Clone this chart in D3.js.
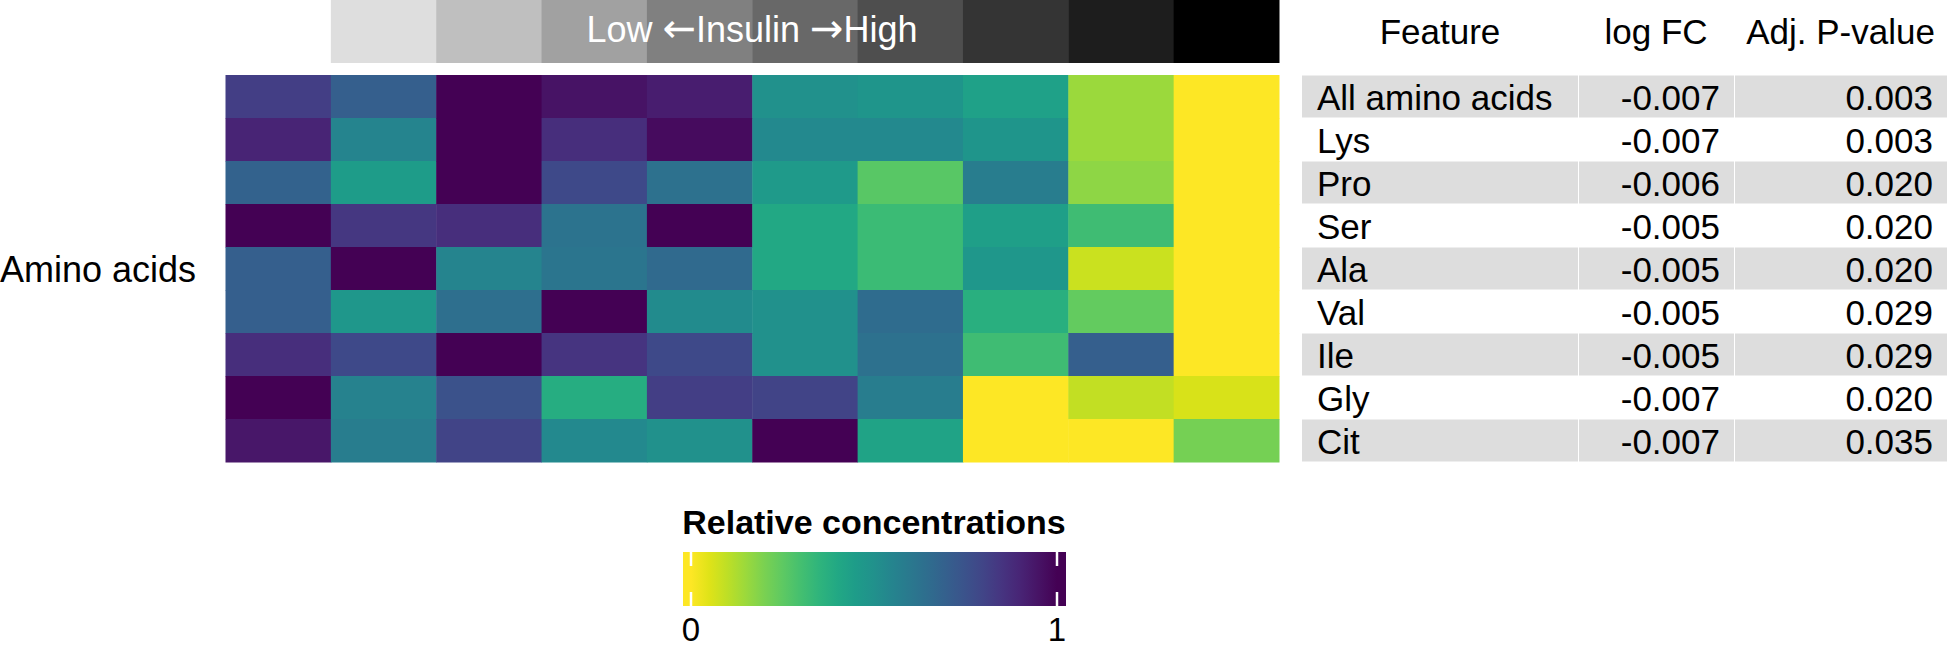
<!DOCTYPE html>
<html><head><meta charset="utf-8">
<script src="https://cdn.jsdelivr.net/npm/d3@7"></script>
<style>
body{margin:0;background:#fff}
svg{display:block}
text{font-family:"Liberation Sans",Arial,Helvetica,sans-serif}
</style>
</head><body><svg id="c" width="1947" height="649"></svg>
<script>
// ---------------- data ----------------
const features = ["All amino acids","Lys","Pro","Ser","Ala","Val","Ile","Gly","Cit"];
const samples = ["S1","S2","S3","S4","S5","S6","S7","S8","S9","S10"];
// insulin group for each sample column (first column has no insulin annotation)
const insulinGroup = [null,1,2,3,4,5,6,7,8,9];
const insulinLabelParts = ["Low ","\u2190","Insulin ","\u2192","High"];
// relative concentrations (0 = yellow, 1 = dark purple), rows = features, cols = samples
const relConc = [
  [0.82,0.70,1.00,0.95,0.92,0.50,0.48,0.43,0.15,0.00],
  [0.90,0.55,1.00,0.87,0.97,0.53,0.53,0.48,0.15,0.00],
  [0.69,0.45,1.00,0.78,0.63,0.46,0.26,0.58,0.17,0.00],
  [1.00,0.84,0.87,0.62,1.00,0.40,0.32,0.44,0.31,0.00],
  [0.70,1.00,0.55,0.61,0.66,0.40,0.32,0.47,0.08,0.00],
  [0.70,0.47,0.64,1.00,0.52,0.50,0.65,0.37,0.24,0.00],
  [0.87,0.78,1.00,0.85,0.78,0.50,0.63,0.31,0.70,0.00],
  [1.00,0.56,0.75,0.38,0.82,0.80,0.58,0.00,0.09,0.06],
  [0.94,0.58,0.80,0.53,0.50,1.00,0.42,0.00,0.00,0.21]
];
const logFC = ["-0.007","-0.007","-0.006","-0.005","-0.005","-0.005","-0.005","-0.007","-0.007"];
const adjP  = ["0.003","0.003","0.020","0.020","0.020","0.029","0.029","0.020","0.035"];
const tableHeaders = ["Feature","log FC","Adj. P-value"];
const rowLabel = "Amino acids";
const legendTitle = "Relative concentrations";
const legendTicks = [0,1];

// ---------------- drawing ----------------
const svg = d3.select("#c");

const x = d3.scaleBand().domain(samples).range([225.5,1279]).padding(0);
const y = d3.scaleBand().domain(features).range([75,462]).padding(0);
const color = d3.scaleSequential(d3.interpolateViridis).domain([1,0]);
const gray = d3.scaleLinear()
  .domain([1,2,3,4,5,6,7,8,9])
  .range(["#dedede","#bfbfbf","#a1a1a1","#808080","#686868","#4e4e4e","#343434","#1d1d1d","#000000"]);

// insulin annotation bar
const ins = svg.append("g");
ins.selectAll("rect").data(samples.map((s,i)=>({s,g:insulinGroup[i]})).filter(d=>d.g!=null))
  .join("rect")
  .attr("x",d=>x(d.s)).attr("y",0)
  .attr("width",x.bandwidth()+0.5).attr("height",63)
  .attr("fill",d=>gray(d.g));
const insText = ins.append("text")
  .attr("x",752).attr("y",41.5)
  .attr("text-anchor","middle")
  .attr("fill","#fff")
  .style("font-size","36px");
insText.selectAll("tspan").data(insulinLabelParts).join("tspan")
  .style("font-family",d=>(d==="\u2190"||d==="\u2192")?"'DejaVu Sans'":null)
  .style("font-size",d=>(d==="\u2190"||d==="\u2192")?"40px":null)
  .text(d=>d);

// heatmap cells
const cells = [];
relConc.forEach((row,ri)=>row.forEach((v,ci)=>cells.push({f:features[ri],s:samples[ci],v})));
svg.append("g").selectAll("rect").data(cells).join("rect")
  .attr("x",d=>x(d.s)).attr("y",d=>y(d.f))
  .attr("width",x.bandwidth()+0.5).attr("height",y.bandwidth()+0.5)
  .attr("fill",d=>color(d.v));

// row group label
svg.append("text")
  .attr("x",0).attr("y",(y.range()[0]+y.range()[1])/2+13)
  .style("font-size","36px")
  .text(rowLabel);

// table
const colEdges = [1302,1578,1734,1947];
const tbl = svg.append("g");
features.forEach((f,i)=>{
  if(i%2===0){
    for(let c=0;c<3;c++){
      tbl.append("rect")
        .attr("x",colEdges[c]+(c?1:0)).attr("y",y(f)+0.5)
        .attr("width",colEdges[c+1]-colEdges[c]-(c?1:0)).attr("height",y.bandwidth()-1)
        .attr("fill","#dddddd");
    }
  }
});
const fs = "35px";
tbl.selectAll("text.h").data(tableHeaders).join("text")
  .attr("class","h")
  .attr("x",(d,i)=>(colEdges[i]+colEdges[i+1])/2)
  .attr("y",44)
  .attr("text-anchor","middle")
  .style("font-size",fs)
  .text(d=>d);
tbl.selectAll("text.f").data(features).join("text")
  .attr("class","f")
  .attr("x",1317).attr("y",d=>y(d)+34.5)
  .style("font-size",fs).text(d=>d);
tbl.selectAll("text.l").data(logFC).join("text")
  .attr("class","l")
  .attr("x",1720).attr("y",(d,i)=>y(features[i])+34.5)
  .attr("text-anchor","end")
  .style("font-size",fs).text(d=>d);
tbl.selectAll("text.p").data(adjP).join("text")
  .attr("class","p")
  .attr("x",1933).attr("y",(d,i)=>y(features[i])+34.5)
  .attr("text-anchor","end")
  .style("font-size",fs).text(d=>d);

// legend
const lx = d3.scaleLinear().domain([0,1]).range([691,1057]);
const barX0 = 683, barX1 = 1066, barY0 = 552, barY1 = 606;
const defs = svg.append("defs");
const grad = defs.append("linearGradient").attr("id","vg")
  .attr("gradientUnits","userSpaceOnUse")
  .attr("x1",lx(0)).attr("x2",lx(1)).attr("y1",0).attr("y2",0);
d3.range(0,1.0001,0.05).forEach(t=>{
  grad.append("stop").attr("offset",t).attr("stop-color",color(t));
});
svg.append("text")
  .attr("x",874).attr("y",534)
  .attr("text-anchor","middle")
  .style("font-size","34px").style("font-weight","bold")
  .text(legendTitle);
svg.append("rect")
  .attr("x",barX0).attr("y",barY0)
  .attr("width",barX1-barX0).attr("height",barY1-barY0)
  .attr("fill","url(#vg)");
const tk = svg.append("g");
legendTicks.forEach(t=>{
  tk.append("line").attr("x1",lx(t)).attr("x2",lx(t)).attr("y1",barY0).attr("y2",barY0+14)
    .attr("stroke","#fff").attr("stroke-width",2.5);
  tk.append("line").attr("x1",lx(t)).attr("x2",lx(t)).attr("y1",barY1-14).attr("y2",barY1)
    .attr("stroke","#fff").attr("stroke-width",2.5);
  tk.append("text").attr("x",lx(t)).attr("y",641)
    .attr("text-anchor","middle").style("font-size","33px").text(t);
});
</script>
</body></html>
